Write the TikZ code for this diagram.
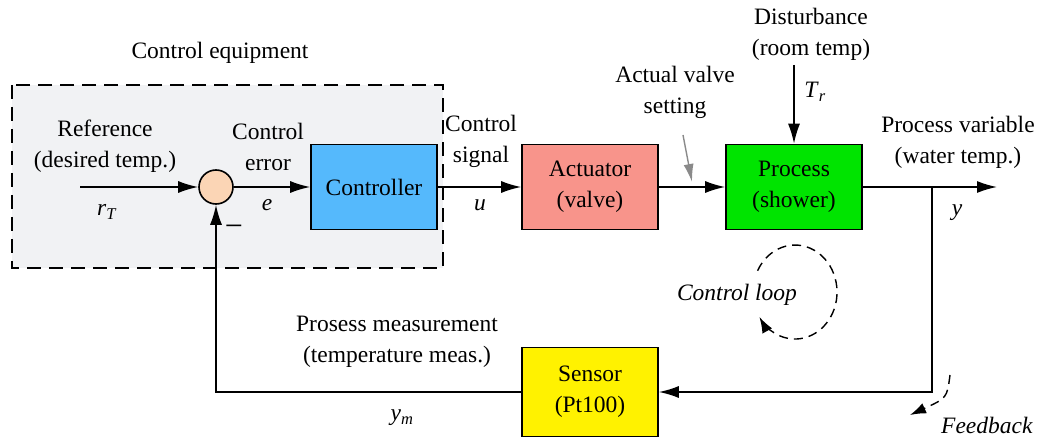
\documentclass[tikz,border=0pt]{standalone}
\usepackage{fontspec}
\setmainfont{Liberation Serif}
\usetikzlibrary{arrows.meta}

\definecolor{boxgray}{HTML}{F1F2F4}
\definecolor{ctrlblue}{HTML}{55B9FC}
\definecolor{actred}{HTML}{F8948B}
\definecolor{procgreen}{HTML}{00E400}
\definecolor{sumpeach}{HTML}{FBD5B5}
\definecolor{arrowgray}{HTML}{8A8A8A}

\newcommand{\sig}[2]{\textit{#1}\textsubscript{\textit{#2}}}

\tikzset{
	blockbox/.style={draw, line width=1.6pt, minimum width=136pt, minimum height=85pt, align=center},
	sigline/.style={line width=1.6pt, -{Latex[length=20pt,width=12pt]}},
	loopline/.style={line width=1.4pt, dash pattern=on 9pt off 6pt, -{Latex[length=16pt,width=11pt]}},
	lbl/.style={align=center, inner sep=0pt}
}

\begin{document}
\begin{tikzpicture}[x=1pt, y=-1pt, font=\fontsize{23.5}{31}\selectfont]
	
	\useasboundingbox (0,0) rectangle (1041,438);
	
	% control equipment frame
	\filldraw[fill=boxgray, line width=1.8pt, dash pattern=on 14pt off 8pt] (12,85) rectangle (443,268);
	\node[lbl] (equip) at (220,53) {Control equipment};
	
	% blocks
	\node[draw, circle, fill=sumpeach, line width=1.6pt, minimum size=34pt, inner sep=0pt] (sum) at (216,187) {};
	\node[blockbox, fill=ctrlblue, minimum width=126pt] (controller) at (374,187) {Controller};
	\node[blockbox, fill=actred] (actuator) at (590,187) {Actuator\\(valve)};
	\node[blockbox, fill=procgreen] (process) at (794,187) {Process\\(shower)};
	\node[blockbox, fill=yellow, minimum height=89pt] (sensor) at (590,392) {Sensor\\(Pt100)};
	
	% free ends
	\coordinate (rin) at (80,187);
	\coordinate (yout) at (997,187);
	\coordinate (branch) at (932,187);
	\coordinate (dist) at (794,65);
	\coordinate (valvetail) at (683,135);
	\coordinate (valvetip) at (692,182);
	\coordinate (loopstart) at (757.6,270.7);
	\coordinate (fbstart) at (950,375);
	\coordinate (fbend) at (910,415);
	
	% signal lines
	\draw[sigline] (rin) -- (sum.west);
	\draw[sigline] (sum.east) -- (controller.west);
	\draw[sigline] (controller.east) -- (actuator.west);
	\draw[sigline] (actuator.east) -- (process.west);
	\draw[sigline] (process.east) -- (yout);
	\draw[sigline] (dist) -- (process.north);
	\draw[sigline] (branch) |- (sensor.east);
	\draw[sigline] (sensor.west) -| (sum.south);
	\draw[line width=1.4pt, arrowgray, -{Latex[length=18pt,width=10pt]}] (valvetail) -- (valvetip);
	
	% loop marks
	\draw[loopline] (loopstart) arc[start angle=-153, end angle=148, x radius=42, y radius=47];
	\draw[loopline] (fbstart) .. controls (947,398) .. (fbend);
	
	% texts
	\node[lbl] (reftext) at (105,146.5) {Reference\\(desired temp.)};
	\node[lbl] (rT) at (107,212) {\sig{r}{T}};
	\node[lbl] (errtext) at (268,146.5) {Control\\error};
	\node[lbl] (e) at (267,205) {\textit{e}};
	\node[lbl, font=\fontsize{32}{32}\selectfont] (minus) at (234,231) {−};
	\node[lbl] (sigtext) at (481,141) {Control\\signal};
	\node[lbl] (u) at (480,205) {\textit{u}};
	\node[lbl] (valvetext) at (675,92.5) {Actual valve\\setting};
	\node[lbl] (disttext) at (811,34.5) {Disturbance\\(room temp)};
	\node[lbl] (Tr) at (815,92) {\sig{T}{r}};
	\node[lbl] (pvtext) at (958,142.5) {Process variable\\(water temp.)};
	\node[lbl] (y) at (957,213) {\textit{y}};
	\node[lbl] (meastext) at (397,342) {Prosess measurement\\(temperature meas.)};
	\node[lbl] (ym) at (402,418) {\sig{y}{m}};
	\node[lbl] (looptext) at (737,295) {\textit{Control loop}};
	\node[lbl] (fbtext) at (987,425) {\textit{Feedback}};

\end{tikzpicture}
\end{document}
